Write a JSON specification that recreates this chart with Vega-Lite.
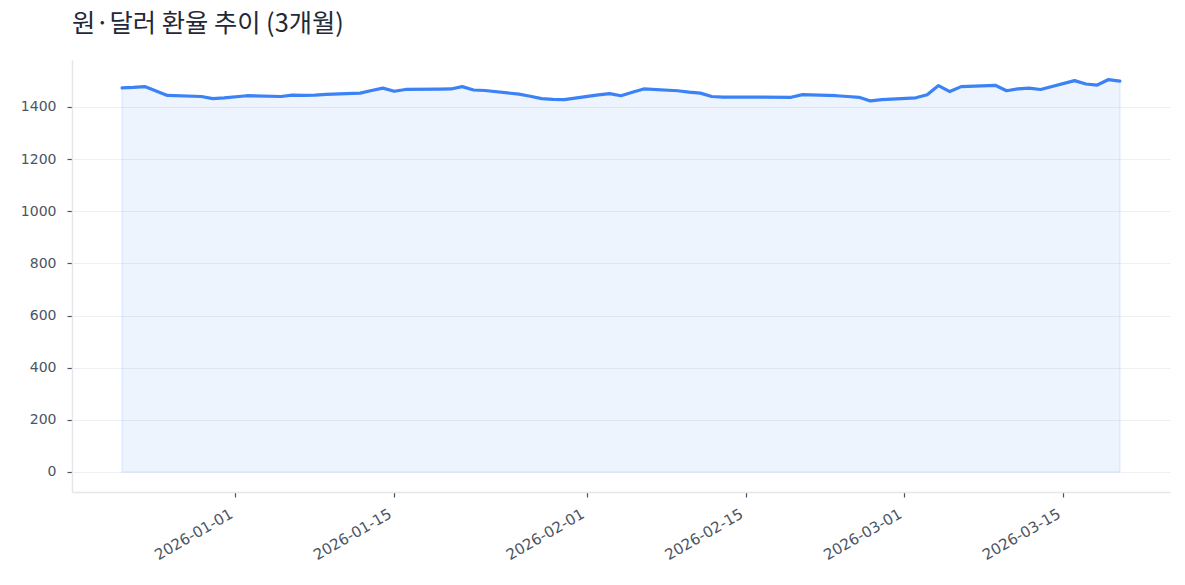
{
  "$schema": "https://vega.github.io/schema/vega-lite/v6.json",
  "autosize": "none",
  "width": 1098,
  "height": 432,
  "padding": {"left": 72, "top": 60, "right": 15, "bottom": 93},
  "background": "white",
  "title": {
    "text": "원·달러 환율 추이 (3개월)",
    "anchor": "start",
    "frame": "group",
    "baseline": "alphabetic",
    "offset": 3,
    "font": "Noto Sans CJK KR",
    "fontSize": 25.3,
    "fontWeight": "normal",
    "color": "#1f2937"
  },
  "data": {
    "values": [
      {"date": "2025-12-22", "rate": 1473},
      {"date": "2025-12-23", "rate": 1475},
      {"date": "2025-12-24", "rate": 1478},
      {"date": "2025-12-26", "rate": 1444},
      {"date": "2025-12-29", "rate": 1440},
      {"date": "2025-12-30", "rate": 1432},
      {"date": "2025-12-31", "rate": 1435},
      {"date": "2026-01-02", "rate": 1443},
      {"date": "2026-01-05", "rate": 1440},
      {"date": "2026-01-06", "rate": 1445},
      {"date": "2026-01-07", "rate": 1444},
      {"date": "2026-01-08", "rate": 1445},
      {"date": "2026-01-09", "rate": 1448},
      {"date": "2026-01-12", "rate": 1453},
      {"date": "2026-01-13", "rate": 1463},
      {"date": "2026-01-14", "rate": 1472},
      {"date": "2026-01-15", "rate": 1460},
      {"date": "2026-01-16", "rate": 1467},
      {"date": "2026-01-19", "rate": 1468},
      {"date": "2026-01-20", "rate": 1469},
      {"date": "2026-01-21", "rate": 1478},
      {"date": "2026-01-22", "rate": 1465},
      {"date": "2026-01-23", "rate": 1463},
      {"date": "2026-01-26", "rate": 1449},
      {"date": "2026-01-27", "rate": 1441},
      {"date": "2026-01-28", "rate": 1432},
      {"date": "2026-01-29", "rate": 1429},
      {"date": "2026-01-30", "rate": 1428},
      {"date": "2026-02-02", "rate": 1446},
      {"date": "2026-02-03", "rate": 1451},
      {"date": "2026-02-04", "rate": 1443},
      {"date": "2026-02-05", "rate": 1456},
      {"date": "2026-02-06", "rate": 1469},
      {"date": "2026-02-09", "rate": 1462},
      {"date": "2026-02-10", "rate": 1457},
      {"date": "2026-02-11", "rate": 1453},
      {"date": "2026-02-12", "rate": 1440},
      {"date": "2026-02-13", "rate": 1438},
      {"date": "2026-02-19", "rate": 1437},
      {"date": "2026-02-20", "rate": 1447},
      {"date": "2026-02-23", "rate": 1443},
      {"date": "2026-02-24", "rate": 1440},
      {"date": "2026-02-25", "rate": 1437},
      {"date": "2026-02-26", "rate": 1423},
      {"date": "2026-02-27", "rate": 1428},
      {"date": "2026-03-02", "rate": 1435},
      {"date": "2026-03-03", "rate": 1447},
      {"date": "2026-03-04", "rate": 1482},
      {"date": "2026-03-05", "rate": 1459},
      {"date": "2026-03-06", "rate": 1478},
      {"date": "2026-03-09", "rate": 1483},
      {"date": "2026-03-10", "rate": 1462},
      {"date": "2026-03-11", "rate": 1469},
      {"date": "2026-03-12", "rate": 1472},
      {"date": "2026-03-13", "rate": 1467},
      {"date": "2026-03-16", "rate": 1501},
      {"date": "2026-03-17", "rate": 1488},
      {"date": "2026-03-18", "rate": 1484},
      {"date": "2026-03-19", "rate": 1505},
      {"date": "2026-03-20", "rate": 1499}
    ]
  },
  "encoding": {
    "x": {
      "field": "date",
      "type": "temporal",
      "title": null,
      "scale": {
        "type": "utc",
        "domain": [
          {"year": 2025, "month": 12, "date": 17, "hours": 14, "utc": true},
          {"year": 2026, "month": 3, "date": 24, "hours": 10, "utc": true}
        ]
      },
      "axis": {
        "values": [
          {"year": 2026, "month": 1, "date": 1, "utc": true},
          {"year": 2026, "month": 1, "date": 15, "utc": true},
          {"year": 2026, "month": 2, "date": 1, "utc": true},
          {"year": 2026, "month": 2, "date": 15, "utc": true},
          {"year": 2026, "month": 3, "date": 1, "utc": true},
          {"year": 2026, "month": 3, "date": 15, "utc": true}
        ],
        "labelExpr": "utcFormat(datum.value, '%Y-%m-%d')",
        "labelAngle": -30,
        "labelAlign": "right",
        "labelBaseline": "top",
        "labelPadding": 9,
        "labelOffset": -8,
        "labelFontSize": 15,
        "grid": false
      }
    },
    "y": {
      "field": "rate",
      "type": "quantitative",
      "title": null,
      "scale": {"domain": [-76.7, 1580], "nice": false, "zero": false},
      "axis": {
        "values": [0, 200, 400, 600, 800, 1000, 1200, 1400],
        "format": "d",
        "labelPadding": 11,
        "labelFontSize": 14,
        "grid": true
      }
    }
  },
  "layer": [
    {
      "mark": {
        "type": "area",
        "color": "#3b82f6",
        "fillOpacity": 0.09,
        "stroke": "#3b82f6",
        "strokeOpacity": 0.12,
        "strokeWidth": 1.5
      },
      "encoding": {"y2": {"datum": 0}}
    },
    {
      "mark": {
        "type": "line",
        "color": "#3b82f6",
        "strokeWidth": 3.2,
        "strokeJoin": "round",
        "strokeCap": "round"
      }
    }
  ],
  "config": {
    "view": {"stroke": null},
    "axis": {
      "labelFont": "DejaVu Sans",
      "labelColor": "#4b5563",
      "domainColor": "#e5e7eb",
      "domainWidth": 1.5,
      "tickColor": "#4b5563",
      "tickSize": 5,
      "tickWidth": 1.2,
      "gridColor": "#eef0f3",
      "gridWidth": 1
    }
  }
}
